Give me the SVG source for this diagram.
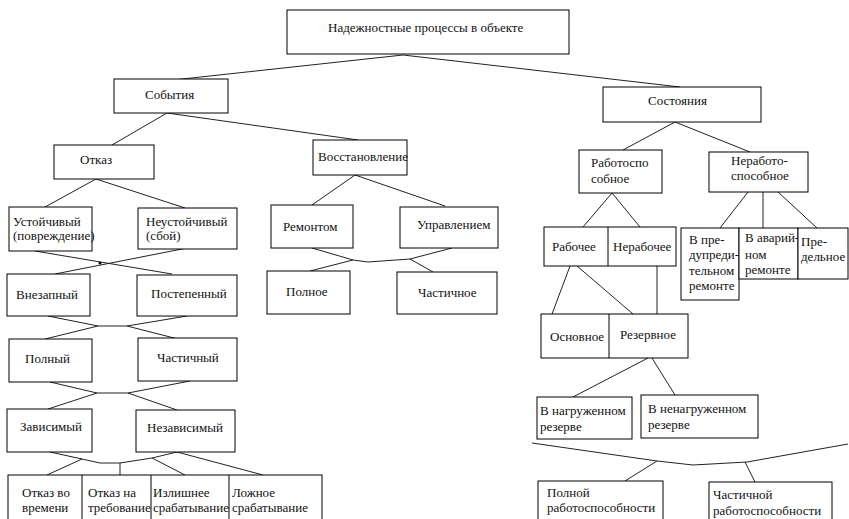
<svg xmlns="http://www.w3.org/2000/svg" width="849" height="519" viewBox="0 0 849 519" font-family="'Liberation Serif', 'Times New Roman', serif" font-size="13">
<style>
rect{fill:#fff;stroke:#000;stroke-width:1}
.d{stroke:#000;stroke-width:1;fill:none}
.c path{fill:none;stroke:#222;stroke-width:1}
text{font-family:'Liberation Serif','Times New Roman',serif;font-size:13px;fill:#111}
</style>
<rect x="0" y="0" width="849" height="519" style="stroke:none"/>
<g class="c" id="connectors">
<path d="M403,55 L173,80"/>
<path d="M403,55 L680,87"/>
<path d="M167,113 L112,145"/>
<path d="M167,113 L358,140"/>
<path d="M96,179 L45,207"/>
<path d="M96,179 L185,208"/>
<path d="M35,251 L172,274"/>
<path d="M187,248 L55,274"/>
<path d="M48,316 L98,326 L127,326 L187,316"/>
<path d="M98,326 L45,339"/>
<path d="M127,326 L178,339"/>
<path d="M50,382 L97,393 L128,393 L190,381"/>
<path d="M97,393 L48,409"/>
<path d="M128,393 L177,410"/>
<path d="M50,452 L82,459 L100,463 L120,463 L152,458 L177,452"/>
<path d="M82,459 L47,475"/>
<path d="M120,463 V475"/>
<path d="M152,458 L185,475"/>
<path d="M177,452 L263,475"/>
<path d="M355,175 L312,205"/>
<path d="M355,175 L445,206"/>
<path d="M312,248 L353,260 L368,262 L410,259 L452,248"/>
<path d="M353,260 L310,271"/>
<path d="M410,259 L433,272"/>
<path d="M675,122 L623,150"/>
<path d="M675,122 L750,152"/>
<path d="M612,193 L583,227"/>
<path d="M612,193 L640,227"/>
<path d="M570,266 L552,314"/>
<path d="M577,266 L633,314"/>
<path d="M657,266 V314"/>
<path d="M748,192 L720,228"/>
<path d="M763,192 V228"/>
<path d="M778,192 L817,228"/>
<path d="M648,358 L573,397"/>
<path d="M652,358 L675,395"/>
<path d="M532,443 L657,461 L693,465 L747,462 L848,444"/>
<path d="M657,461 L625,481"/>
<path d="M745,462 L755,482"/>
<circle cx="100" cy="263" r="1.5" fill="#000"/>
</g>
<g id="root"><rect x="287" y="10" width="282" height="44"/><text x="328" y="32">Надежностные процессы в объекте</text></g>
<g id="events"><rect x="114" y="79" width="114" height="34"/><text x="145" y="99">События</text></g>
<g id="states"><rect x="603" y="87" width="158" height="35"/><text x="648" y="105">Состояния</text></g>
<g id="failure"><rect x="54" y="145" width="100" height="34"/><text x="80" y="164">Отказ</text></g>
<g id="recovery"><rect x="313" y="140" width="94" height="35"/><text x="318" y="161">Восстановление</text></g>
<g id="operable"><rect x="579" y="150" width="83" height="43"/><text x="591" y="167">Работоспо</text><text x="591" y="183">собное</text></g>
<g id="inoperable"><rect x="709" y="152" width="99" height="40"/><text x="731" y="165">Неработо-</text><text x="731" y="180">способное</text></g>
<g id="stable"><rect x="9" y="207" width="83" height="44"/><text x="13" y="226">Устойчивый</text><text x="13" y="240">(повреждение)</text></g>
<g id="unstable"><rect x="138" y="208" width="99" height="41"/><text x="146" y="226">Неустойчивый</text><text x="146" y="240">(сбой)</text></g>
<g id="sudden"><rect x="7" y="274" width="83" height="42"/><text x="16" y="299">Внезапный</text></g>
<g id="gradual"><rect x="137" y="275" width="100" height="41"/><text x="151" y="298">Постепенный</text></g>
<g id="full"><rect x="9" y="339" width="83" height="43"/><text x="25" y="363">Полный</text></g>
<g id="partial"><rect x="138" y="338" width="99" height="43"/><text x="157" y="362">Частичный</text></g>
<g id="dependent"><rect x="7" y="409" width="85" height="43"/><text x="20" y="431">Зависимый</text></g>
<g id="independent"><rect x="136" y="410" width="99" height="42"/><text x="147" y="432">Независимый</text></g>
<g id="types">
<rect x="8" y="475" width="314" height="60"/>
<path class="d" d="M82,475 V519 M151,475 V519 M229,475 V519"/>
<text x="22" y="497">Отказ во</text><text x="22" y="512">времени</text>
<text x="88" y="497">Отказ на</text><text x="88" y="512">требование</text>
<text x="153" y="497">Излишнее</text><text x="153" y="512">срабатывание</text>
<text x="232" y="497">Ложное</text><text x="232" y="512">срабатывание</text>
</g>
<g id="repair"><rect x="271" y="205" width="82" height="43"/><text x="283" y="231">Ремонтом</text></g>
<g id="control"><rect x="400" y="207" width="98" height="41"/><text x="417" y="229">Управлением</text></g>
<g id="full-rec"><rect x="267" y="271" width="83" height="43"/><text x="286" y="296">Полное</text></g>
<g id="partial-rec"><rect x="397" y="272" width="100" height="42"/><text x="418" y="297">Частичное</text></g>
<g id="working"><rect x="544" y="227" width="132" height="39"/><path class="d" d="M608,227 V266"/><text x="552" y="251">Рабочее</text><text x="613" y="251">Нерабочее</text></g>
<g id="prerepair"><rect x="681" y="228" width="58" height="72"/><text x="689" y="244">В пре-</text><text x="689" y="259">дупреди-</text><text x="689" y="275">тельном</text><text x="689" y="290">ремонте</text></g>
<g id="emergency"><rect x="739" y="228" width="59" height="51"/><text x="745" y="242">В аварий-</text><text x="745" y="259">ном</text><text x="745" y="274">ремонте</text></g>
<g id="limit"><rect x="798" y="228" width="50" height="51"/><text x="801" y="246">Пре-</text><text x="801" y="261">дельное</text></g>
<g id="main-reserve"><rect x="541" y="314" width="147" height="44"/><path class="d" d="M609,314 V358"/><text x="550" y="341">Основное</text><text x="620" y="339">Резервное</text></g>
<g id="loaded"><rect x="537" y="397" width="95" height="42"/><text x="540" y="415">В нагруженном</text><text x="540" y="431">резерве</text></g>
<g id="unloaded"><rect x="641" y="395" width="117" height="43"/><text x="648" y="413">В ненагруженном</text><text x="648" y="429">резерве</text></g>
<g id="full-op"><rect x="538" y="481" width="125" height="50"/><text x="547" y="497">Полной</text><text x="547" y="512">работоспособности</text></g>
<g id="partial-op"><rect x="709" y="482" width="123" height="50"/><text x="713" y="499">Частичной</text><text x="713" y="515">работоспособности</text></g>
</svg>
